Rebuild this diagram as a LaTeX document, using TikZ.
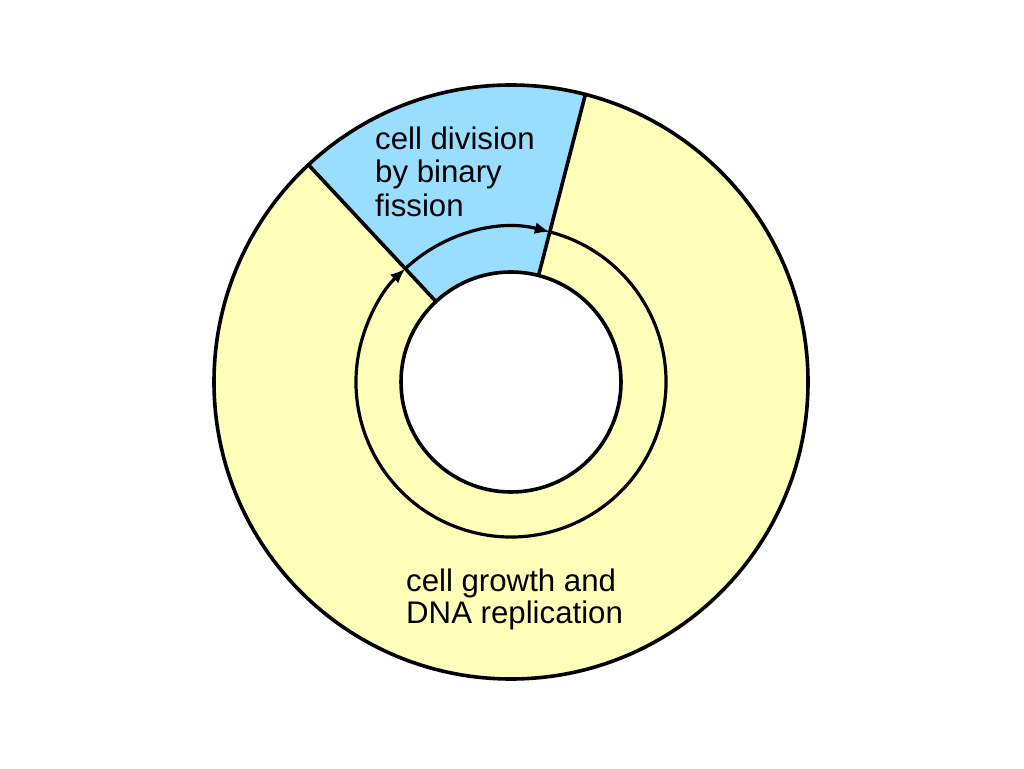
\documentclass[tikz,border=0pt]{standalone}
\usepackage{fontspec}
\setmainfont{Liberation Sans}
\usetikzlibrary{arrows.meta}
\definecolor{cellyellow}{RGB}{255,255,185}
\definecolor{cellblue}{RGB}{153,221,255}
\begin{document}
\begin{tikzpicture}[x=1pt,y=1pt,
  ring/.style={line width=3.6pt, draw=black},
  lbl/.style={anchor=base west, inner sep=0pt, font=\fontsize{31.2}{34}\selectfont},
  cyc/.style={line width=3.2pt, -{Latex[length=15pt,width=12pt]}}]
\useasboundingbox (0,0) rectangle (1024,768);
\begin{scope}[shift={(511,386)}]
  \coordinate (c) at (0,0);
  \fill[cellyellow] (c) circle[radius=297];
  \fill[cellblue] (133:297) arc[start angle=133, end angle=75.5, radius=297]
     -- (75.5:110) arc[start angle=75.5, end angle=133, radius=110] -- cycle;
  \coordinate (o1) at (133:297);
  \coordinate (i1) at (133:110);
  \coordinate (o2) at (75.5:297);
  \coordinate (i2) at (75.5:110);
  \draw[ring] (i1) -- (o1);
  \draw[ring] (i2) -- (o2);
  \coordinate (a1) at (133:155);
  \coordinate (a2) at (75.5:155);
  \draw[cyc] (a1) arc[start angle=133, end angle=75.5, radius=155];
  \draw[cyc] (a2) arc[start angle=75.5, end angle=-227, radius=155];
  \draw[ring, fill=white] (c) circle[radius=110];
  \draw[ring] (c) circle[radius=297];
\end{scope}
\node[lbl] (t1) at (375,618) {cell division};
\node[lbl] (t2) at (375,585) {by binary};
\node[lbl] (t3) at (375,551) {fission};
\node[lbl] (b1) at (406,176) {cell growth and};
\node[lbl] (b2) at (406,145) {DNA replication};
\end{tikzpicture}
\end{document}
